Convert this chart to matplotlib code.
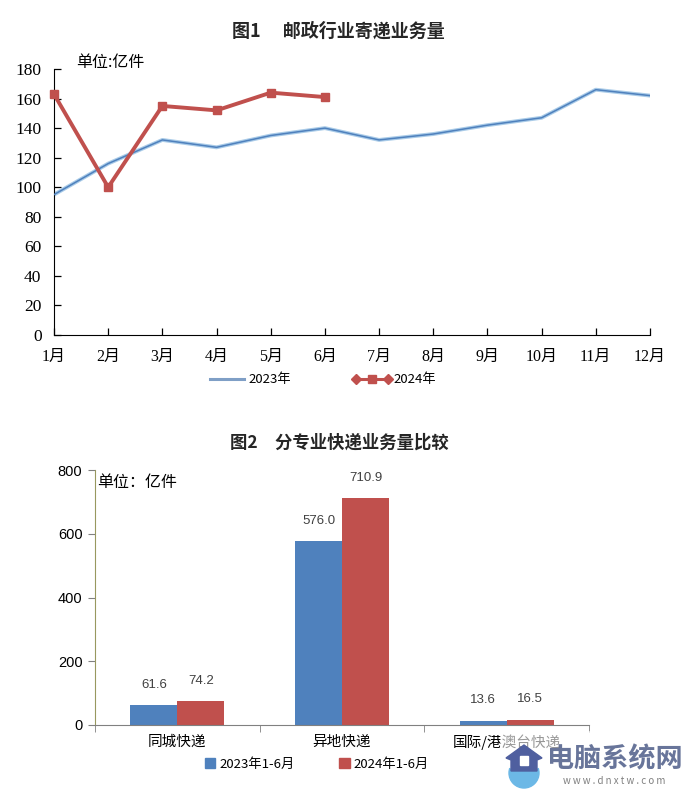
#!/usr/bin/env python
# coding: utf-8

# Postal business volume: monthly line chart and express bar chart

import numpy             as np
import matplotlib
matplotlib.use("Agg")
import matplotlib.pyplot as plt
from matplotlib.lines   import Line2D
from matplotlib.patches import Polygon, Ellipse, Rectangle

plt.rcParams['font.family'] = ['Noto Sans CJK SC', 'DejaVu Sans']

months   = ["1月", "2月", "3月", "4月", "5月", "6月", "7月", "8月", "9月", "10月", "11月", "12月"]
vol_2023 = [95, 116, 132, 127, 135, 140, 132, 136, 142, 147, 166, 162]
vol_2024 = [163, 100, 155, 152, 164, 161]
y_ticks1 = [0, 20, 40, 60, 80, 100, 120, 140, 160, 180]

kinds     = ["同城快递", "异地快递", "国际/港澳台快递"]
half_2023 = [61.6, 576.0, 13.6]
half_2024 = [74.2, 710.9, 16.5]
y_ticks2  = [0, 200, 400, 600, 800]

BLUE  = '#4f81bd'
RED   = '#c0504d'
W, H  = 689., 790.
SERIF = ['Liberation Serif', 'Noto Sans CJK SC']
SANS  = ['Liberation Sans', 'Noto Sans CJK SC']


# Axes rectangle from pixel edges of the picture
def pixelAxes(fig, left, top, right, bottom):
    return fig.add_axes([left / W, 1 - bottom / H, (right - left) / W, (bottom - top) / H])


def figText(fig, x, y, s, **kw):
    kw.setdefault('ha', 'left')
    kw.setdefault('va', 'center')
    fig.text(x / W, 1 - y / H, s, **kw)


def plotMonthly(fig):
    ax = pixelAxes(fig, 54, 69, 650, 335)
    x  = np.arange(len(months))

    ax.plot(x, vol_2023, color='#a9cbe8', lw=2.8, zorder=2)
    ax.plot(x, vol_2023, color=BLUE, lw=1.1, zorder=3)
    ax.plot(x[:len(vol_2024)], vol_2024, color=RED, lw=2.8, marker='s', ms=6,
            clip_on=False, zorder=4)

    ax.set_xlim(0, len(months) - 1)
    ax.set_ylim(0, 180)
    ax.set_xticks(x)
    ax.set_xticklabels(months, family=SERIF, fontsize=11.5)
    ax.set_yticks(y_ticks1)
    ax.set_yticklabels(y_ticks1, family=SERIF, fontsize=12.5)
    ax.tick_params(direction='in', length=5, width=0.9)
    ax.tick_params(axis='x', pad=10)
    ax.tick_params(axis='y', pad=9)
    ax.spines['top'].set_visible(False)
    ax.spines['right'].set_visible(False)
    ax.patch.set_alpha(0)

    figText(fig, 338, 31, "图1　 邮政行业寄递业务量", ha='center', fontsize=13, fontweight='bold', color='#262626')
    figText(fig, 76, 63, "单位:亿件", fontsize=11.5)

    # legend, hand placed to get the diamond-square-diamond key
    y = 1 - 379 / H
    fig.add_artist(Line2D([210 / W, 244 / W], [y, y], color='#7f9fc6', lw=2.2))
    figText(fig, 248, 379, "2023年", fontsize=9.5)
    fig.add_artist(Line2D([356 / W, 388 / W], [y, y], color=RED, lw=2.2, marker='D', ms=5))
    fig.add_artist(Line2D([372 / W], [y], color=RED, marker='s', ms=6))
    figText(fig, 393, 379, "2024年", fontsize=9.5)


def plotKinds(fig):
    ax = pixelAxes(fig, 95, 470, 589, 725)
    x  = np.arange(len(kinds))
    w  = 0.285

    b1 = ax.bar(x - w / 2, half_2023, w, color=BLUE)
    b2 = ax.bar(x + w / 2, half_2024, w, color=RED)

    for bars, vals in ((b1, half_2023), (b2, half_2024)):
        for bar, v in zip(bars, vals):
            ax.annotate("%.1f" % v, (bar.get_x() + bar.get_width() / 2, v), xytext=(0, 15),
                        textcoords='offset points', ha='center', va='center',
                        fontsize=9.5, color='#404040', family=SANS)

    ax.set_xlim(-0.5, 2.5)
    ax.set_ylim(0, 800)
    ax.set_xticks(x)
    ax.set_xticklabels(kinds, fontsize=10.5)
    ax.set_xticks([-0.5, 0.5, 1.5, 2.5], minor=True)
    ax.tick_params(axis='x', which='major', length=0, pad=7)
    ax.tick_params(axis='x', which='minor', length=5, color='#808080')
    ax.set_yticks(y_ticks2)
    ax.set_yticklabels(y_ticks2, fontsize=10.5, family=SANS)
    ax.tick_params(axis='y', length=5, color='#808080', pad=4)
    ax.spines['top'].set_visible(False)
    ax.spines['right'].set_visible(False)
    ax.spines['left'].set_color('#98985f')
    ax.spines['bottom'].set_color('#808080')

    figText(fig, 339, 443, "图2　分专业快递业务量比较", ha='center', fontsize=12.5, fontweight='bold', color='#262626')
    figText(fig, 97, 482, "单位：亿件", fontsize=11.5)

    handles = [Rectangle((0, 0), 1, 1, color=BLUE), Rectangle((0, 0), 1, 1, color=RED)]
    fig.legend(handles, ["2023年1-6月", "2024年1-6月"], loc='center', ncol=2,
               bbox_to_anchor=(317 / W, 1 - 764 / H), frameon=False, fontsize=9.5,
               handlelength=0.8, handleheight=0.8, handletextpad=0.3, columnspacing=3.4)


# Site watermark in the lower right corner
def plotWatermark(fig):
    wm = fig.add_axes([0, 0, 1, 1])
    wm.set_xlim(0, W)
    wm.set_ylim(H, 0)
    wm.axis('off')
    wm.patch.set_alpha(0)

    # the mark fades what lies under it
    wm.add_patch(Rectangle((500, 731), 189, 59, color='white', alpha=0.6, lw=0))
    wm.add_patch(Ellipse((524, 773), 30, 30, color='#6cb8e6'))
    wm.add_patch(Ellipse((524, 763), 36, 14, color='white'))
    wm.add_patch(Polygon([[506, 758], [524, 745], [542, 758], [537, 760], [537, 771],
                          [511, 771], [511, 760]], color='#4f5f9f'))
    wm.add_patch(Rectangle((520, 756), 8, 9, color='white'))
    wm.text(615, 759, "电脑系统网", ha='center', va='center', fontsize=19.5,
            fontweight='bold', color='#58668f', alpha=0.9)
    wm.text(614, 781, "w w w . d n x t w . c o m", ha='center', va='center', fontsize=7,
            color='#808080')


if __name__ == "__main__":

    fig = plt.figure(figsize=(6.89, 7.90), dpi=100)

    plotMonthly(fig)
    plotKinds(fig)
    plotWatermark(fig)

    plt.savefig("out.png", dpi=100)
